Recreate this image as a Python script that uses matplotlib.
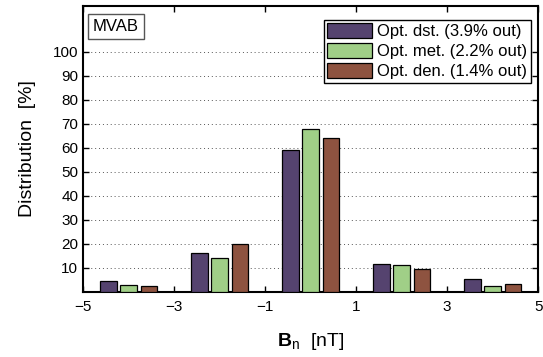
import matplotlib
matplotlib.use('Agg')
import matplotlib.pyplot as plt
import numpy as np

plt.rcParams['font.family'] = ['Liberation Sans', 'DejaVu Sans']
plt.rcParams['mathtext.fontset'] = 'custom'
plt.rcParams['mathtext.rm'] = 'Liberation Sans'
plt.rcParams['mathtext.bf'] = 'Liberation Sans:bold'

# bin centres in nT
bins = [-4, -2, 0, 2, 4]
dst = [4.3, 16.3, 59.2, 11.4, 5.2]
met = [2.6, 13.9, 67.8, 11.0, 2.2]
den = [2.2, 19.7, 64.0, 9.6, 3.1]
labels = ['Opt. dst. (3.9% out)', 'Opt. met. (2.2% out)', 'Opt. den. (1.4% out)']
colors = ['#55436f', '#a0cf87', '#8e5340']

xticks = [-5, -3, -1, 1, 3, 5]
yticks = np.arange(10, 101, 10)

fig = plt.figure(figsize=(5.43, 3.57), dpi=100)
ax = fig.add_axes([0.153, 0.183, 0.838, 0.800])

step = 0.444
width = 0.36
x = np.array(bins, dtype=float)
for i, (vals, lab, c) in enumerate(zip([dst, met, den], labels, colors)):
    ax.bar(x + (i - 1) * step, vals, width=width, color=c, edgecolor='black',
           linewidth=0.9, label=lab, zorder=3)

ax.set_xlim(-5, 5)
ax.set_ylim(0, 119)
ax.set_xticks(xticks)
ax.set_yticks(yticks)
ax.tick_params(direction='in', length=4, width=1, top=True, right=True,
               labelsize=11, colors='black')
ax.tick_params(axis='x', pad=6)
for s in ax.spines.values():
    s.set_linewidth(1.5)
ax.yaxis.grid(True, linestyle=(0, (1, 3)), color='#555555', linewidth=0.7)
ax.set_axisbelow(True)

ax.set_ylabel('Distribution  [%]', fontsize=14, labelpad=12)
ax.set_xlabel(r'$\mathbf{B}_\mathrm{n}$  [nT]', fontsize=14, labelpad=12)

ax.text(0.022, 0.955, 'MVAB', transform=ax.transAxes, fontsize=12,
        va='top', ha='left',
        bbox=dict(boxstyle='square,pad=0.3', facecolor='white', edgecolor='#555555', linewidth=1))

leg = ax.legend(loc='upper right', fontsize=12, frameon=True, fancybox=False,
                edgecolor='black', framealpha=1, borderpad=0.2, labelspacing=0.25,
                handlelength=2.7, handleheight=0.95, handletextpad=0.3,
                borderaxespad=0.4, bbox_to_anchor=(0.998, 0.975))
leg.get_frame().set_linewidth(1)

fig.savefig('out.png', dpi=100)
plt.close()
